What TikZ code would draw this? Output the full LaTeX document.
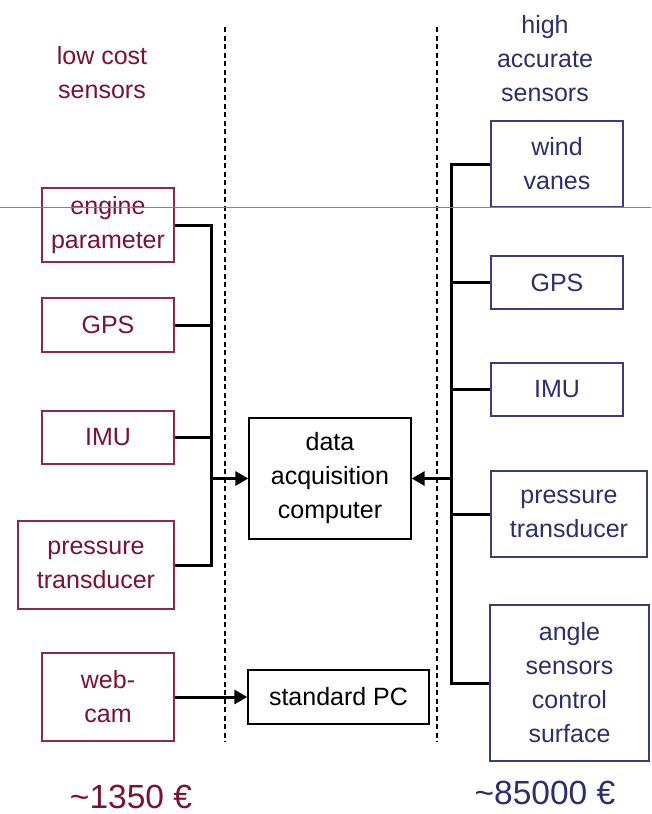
\documentclass[tikz,border=0pt]{standalone}
\usepackage{fontspec}
\setmainfont{Liberation Sans}
\usetikzlibrary{arrows.meta}
\definecolor{lred}{HTML}{7A1232}
\definecolor{lredbox}{HTML}{8C2A48}
\definecolor{rblue}{HTML}{2E2E6C}
\definecolor{rbluebox}{HTML}{3C3C7C}
\definecolor{hline}{HTML}{7088B0}
\tikzset{
  basefont/.style={font=\fontsize{25}{34}\selectfont},
  redbox/.style={draw=lredbox, text=lred, line width=1.4pt, inner sep=0pt, align=center, basefont},
  bluebox/.style={draw=rbluebox, text=rblue, line width=1.4pt, inner sep=0pt, align=center, basefont},
  blackbox/.style={draw=black, text=black, line width=1.4pt, inner sep=0pt, align=center, basefont},
  bus/.style={line width=3pt, black},
  busarrow/.style={bus, -{Triangle[length=13pt,width=14pt]}},
  divider/.style={line width=1.3pt, dash pattern=on 5pt off 3.5pt},
  pricefont/.style={font=\fontsize{33.5}{40}\selectfont}
}
\begin{document}
\begin{tikzpicture}[x=1pt,y=-1pt]
\useasboundingbox[fill=white] (0,0) rectangle (651,814);

% dividers
\coordinate (d1t) at (225,27); \coordinate (d1b) at (225,742);
\coordinate (d2t) at (437,27); \coordinate (d2b) at (437,742);
\draw[divider] (d1t) -- (d1b);
\draw[divider] (d2t) -- (d2b);

% headings
\node[text=lred, basefont, align=center] (lhead) at (102,73) {low cost\\sensors};
\node[text=rblue, basefont, align=center] (rhead) at (545,59) {high\\accurate\\sensors};

% left boxes
\node[redbox, minimum width=132pt, minimum height=74pt] (eng) at (108,225) {engine\\parameter};
\node[redbox, minimum width=132pt, minimum height=54pt] (lgps) at (108,325) {GPS};
\node[redbox, minimum width=132pt, minimum height=53pt] (limu) at (108,437.5) {IMU};
\node[redbox, minimum width=156pt, minimum height=88pt] (lpt) at (96,565) {pressure\\transducer};
\node[redbox, minimum width=132pt, minimum height=88pt] (cam) at (108,697) {web-\\cam};

% centre boxes
\node[blackbox, minimum width=162pt, minimum height=121pt] (daq) at (330,478.5) {data\\acquisition\\computer};
\node[blackbox, minimum width=181pt, minimum height=54pt] (pc) at (338.5,697) {standard PC};

% right boxes
\node[bluebox, minimum width=132pt, minimum height=86pt] (wind) at (557,164) {wind\\vanes};
\node[bluebox, minimum width=132pt, minimum height=53pt] (rgps) at (557,282.5) {GPS};
\node[bluebox, minimum width=132pt, minimum height=53pt] (rimu) at (557,389.5) {IMU};
\node[bluebox, minimum width=156pt, minimum height=86pt] (rpt) at (569,514) {pressure\\transducer};
\node[bluebox, minimum width=159pt, minimum height=156pt] (ang) at (569.5,683) {angle\\sensors\\control\\surface};

% left bus
\coordinate (lj) at (211,478.5);
\draw[bus] (eng.east) -| (lj);
\draw[bus] (lpt.east) -| (lj);
\draw[bus] (lgps.east) -- (lgps.east -| lj);
\draw[bus] (limu.east) -- (limu.east -| lj);
\draw[busarrow] (lj) -- (daq.west);

% right bus
\coordinate (rj) at (451,478.5);
\draw[bus] (wind.west) -| (rj);
\draw[bus] (ang.west) -| (rj);
\draw[bus] (rgps.west) -- (rgps.west -| rj);
\draw[bus] (rimu.west) -- (rimu.west -| rj);
\draw[bus] (rpt.west) -- (rpt.west -| rj);
\draw[busarrow] (rj) -- (daq.east);

% webcam to PC
\draw[busarrow] (cam.east) -- (pc.west);

% prices
\node[text=lred, pricefont] (lprice) at (131,797) {{\char"7E}1350 €};
\node[text=rblue, pricefont] (rprice) at (545,793) {{\char"7E}85000 €};

% thin horizontal rule
\coordinate (hl) at (0,207); \coordinate (hr) at (651,207);
\draw[hline, line width=0.8pt] (hl) -- (hr);
\end{tikzpicture}
\end{document}
